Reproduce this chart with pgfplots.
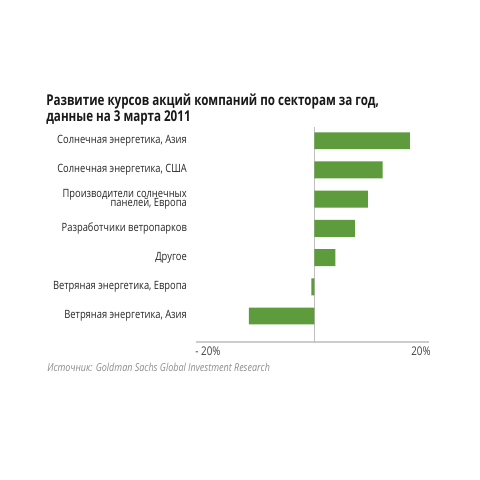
\documentclass[border=0pt]{standalone}
\usepackage{fontspec}
\setmainfont[FakeStretch=0.82]{Open Sans}
\newfontfamily\titlefont[FakeStretch=0.78]{Open Sans}
\usepackage{pgfplots}
\pgfplotsset{compat=1.18}
\definecolor{barg}{HTML}{5E9B3C}
\begin{document}
\begin{tikzpicture}
\path[fill=white] (0,0) rectangle (12cm,12cm);
\node[anchor=north west,inner sep=0pt,align=left,font=\titlefont\bfseries\fontsize{10.6}{11}\selectfont,text=black!90] at (1.15cm,9.65cm) {Развитие курсов акций компаний по секторам за год,\\данные на 3 марта 2011};
\begin{axis}[
  at={(4.9cm,3.45cm)}, anchor=south west,
  scale only axis,
  width=5.825cm, height=5.375cm,
  xmin=-22.25, xmax=21.5,
  ymin=-0.89, ymax=6.47,
  xbar, bar width=0.58,
  axis lines*=left,
  x axis line style={draw=black!20, line width=0.8pt, -},
  y axis line style={draw=none},
  xtick={-20,20}, xticklabels={- 20\%, 20\%},
  major tick length=0pt,
  x tick label style={font=\fontsize{8.5}{9}\selectfont, text=black!75},
  ytick={0,1,2,3,4,5,6},
  yticklabels={Ветряная энергетика{,} Азия, Ветряная энергетика{,} Европа, Другое, Разработчики ветропарков, {Производители солнечных\\[-3pt]панелей{,} Европа}, Солнечная энергетика{,} США, Солнечная энергетика{,} Азия},
  y tick label style={font=\fontsize{8.1}{7}\selectfont, align=right, text=black!85, xshift=-3pt},
  clip=false,
  extra x ticks={0}, extra x tick labels={},
  extra x tick style={grid=major, major grid style={draw=black!25, line width=0.6pt}},
]
\addplot[fill=barg, draw=none] coordinates {(-12.3,0) (-0.6,1) (3.9,2) (7.6,3) (10.0,4) (12.8,5) (17.9,6)};
\end{axis}
\node[anchor=north west,inner sep=0pt,font=\itshape\fontsize{7.8}{8}\selectfont,text=black!45] at (1.175cm,2.93cm) {Источник: Goldman Sachs Global Investment Research};
\end{tikzpicture}
\end{document}
